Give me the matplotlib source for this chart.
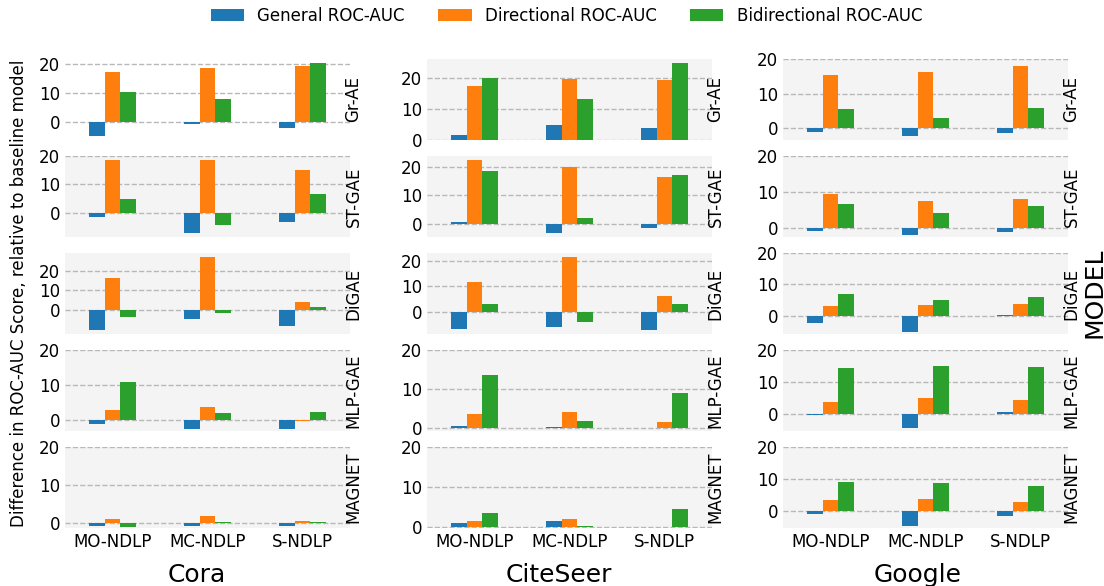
import matplotlib
matplotlib.use("Agg")
import matplotlib.pyplot as plt
import numpy as np

plt.rcParams['font.family'] = ['DejaVu Sans']

models = ["Gr-AE", "ST-GAE", "DiGAE", "MLP-GAE", "MAGNET"]
datasets = ["Cora", "CiteSeer", "Google"]
tasks = ["MO-NDLP", "MC-NDLP", "S-NDLP"]
metrics = ["General ROC-AUC", "Directional ROC-AUC", "Bidirectional ROC-AUC"]
colors = ["#1f77b4", "#ff7f0e", "#2ca02c"]

# rows = models, columns = tasks
cora_general = [[-4.8, -0.7, -1.8], [-1.5, -7.3, -3.3], [-10.5, -4.9, -8.1],
                [-1.2, -2.6, -2.6], [-0.8, -0.8, -0.8]]
cora_directional = [[17.4, 18.7, 19.2], [18.5, 18.5, 15.0], [16.3, 27.1, 4.2],
                    [2.8, 3.7, -0.3], [1.1, 1.9, 0.5]]
cora_bidirectional = [[10.5, 8.1, 20.5], [4.7, -4.3, 6.5], [-3.6, -1.5, 1.5],
                      [10.9, 1.9, 2.2], [-1.2, 0.1, 0.1]]

citeseer_general = [[1.6, 4.9, 3.9], [0.5, -3.3, -1.3], [-6.2, -5.8, -6.9],
                    [0.6, 0.3, -0.1], [0.8, 1.5, -0.15]]
citeseer_directional = [[17.6, 19.9, 19.6], [22.4, 19.7, 16.5], [11.9, 21.5, 6.5],
                        [3.5, 4.2, 1.4], [1.5, 2.0, -0.1]]
citeseer_bidirectional = [[20.1, 13.3, 25.0], [18.6, 1.9, 16.9], [3.1, -3.8, 3.1],
                          [13.6, 1.9, 9.0], [3.5, 0.1, 4.3]]

google_general = [[-1.0, -2.4, -1.3], [-0.8, -1.9, -1.1], [-2.4, -5.3, 0.2],
                  [-0.4, -4.5, 0.4], [-0.8, -4.5, -1.4]]
google_directional = [[15.3, 16.1, 17.9], [9.4, 7.4, 8.0], [3.0, 3.3, 3.6],
                      [3.5, 4.8, 4.2], [3.4, 3.7, 2.8]]
google_bidirectional = [[5.6, 3.0, 5.9], [6.7, 4.1, 6.0], [6.8, 4.9, 5.9],
                        [14.2, 15.1, 14.8], [9.0, 8.7, 8.0]]

data = {
    "Cora": [cora_general, cora_directional, cora_bidirectional],
    "CiteSeer": [citeseer_general, citeseer_directional, citeseer_bidirectional],
    "Google": [google_general, google_directional, google_bidirectional],
}

W, H = 1104, 586
fig = plt.figure(figsize=(W / 100, H / 100), dpi=100)

col_left = [65, 427, 783]
col_w = 285
row_top = [59, 156, 253, 350, 447]
row_h = 81
title_x = [197, 559, 918]

FS = 12
bar_w = 0.5 / 3
x = np.arange(len(tasks))
handles = []
for c, ds in enumerate(datasets):
    for r, model in enumerate(models):
        ax = fig.add_axes([col_left[c] / W, 1 - (row_top[r] + row_h) / H,
                           col_w / W, row_h / H])
        face = "white" if (c == 0 and r == 0) else "#f4f4f4"
        ax.set_facecolor(face)
        for k in range(3):
            b = ax.bar(x + (k - 1) * bar_w, data[ds][k][r], width=bar_w,
                       color=colors[k], label=metrics[k], zorder=2)
            if c == 0 and r == 0:
                handles.append(b)
        lo, hi = ax.get_ylim()
        ax.set_ylim(min(lo, 0), max(hi, 20))
        ax.set_yticks([0, 10, 20])
        ax.set_xlim(-0.5, 2.5)
        ax.set_xticks(x)
        if r == len(models) - 1:
            ax.set_xticklabels(tasks, fontsize=FS)
        else:
            ax.set_xticklabels([])
        ax.tick_params(length=0, labelsize=FS)
        ax.yaxis.grid(True, linestyle="--", color="#b8b8b8", lw=1, zorder=0)
        ax.xaxis.grid(False)
        ax.set_axisbelow(True)
        for s in ax.spines.values():
            s.set_visible(False)
        # row label on the right
        fig.text((col_left[c] + col_w + 3.5) / W,
                 1 - (row_top[r] + row_h / 2) / H, model, rotation=90,
                 ha="center", va="center", fontsize=FS)
    fig.text(title_x[c] / W, 1 - 582 / H, ds, ha="center", va="baseline",
             fontsize=18)

fig.text(19 / W, 1 - 293 / H,
         "Difference in ROC-AUC Score, relative to baseline model",
         rotation=90, ha="center", va="center", fontsize=12)
fig.text(1094 / W, 1 - 293 / H, "MODEL", rotation=90, ha="center",
         va="center", fontsize=18)

fig.legend(handles=handles, labels=metrics, loc="center", ncol=3,
           frameon=False, fontsize=FS,
           bbox_to_anchor=(566.5 / W, 1 - 16 / H))

fig.savefig("out.png", dpi=100)
